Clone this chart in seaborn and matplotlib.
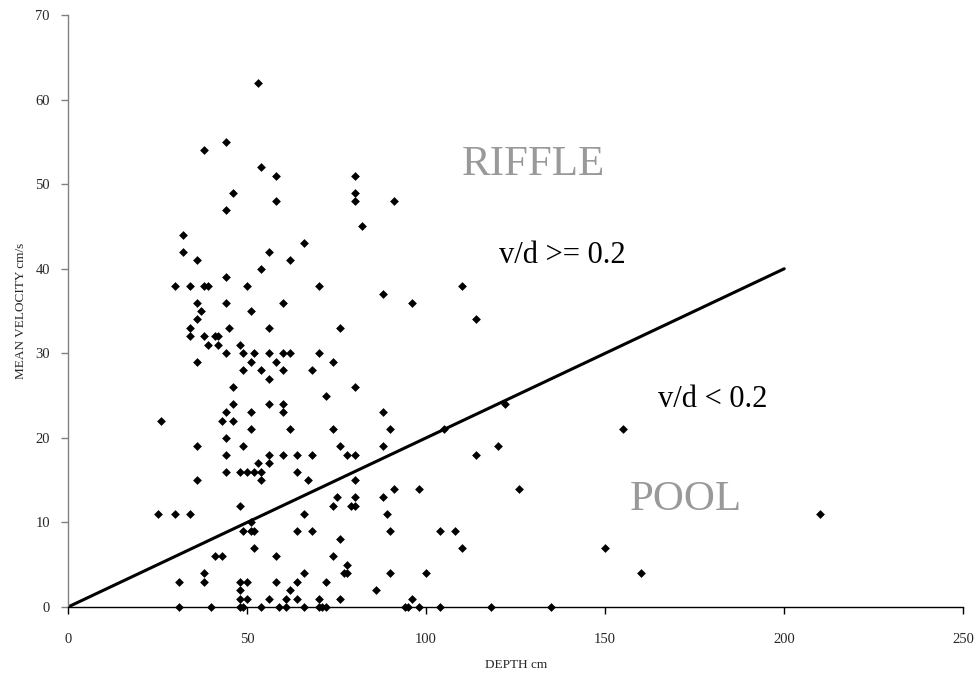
import matplotlib
matplotlib.use("Agg")
import matplotlib.pyplot as plt
import seaborn as sns
import pandas as pd

# Field survey: depth (cm) and mean velocity (cm/s) at each station
depth = [
    53, 44, 38, 54, 58, 80, 46, 80, 58, 80, 91, 44, 82, 32, 66, 32, 56, 36, 62, 54,
    44, 30, 34, 38, 39, 50, 70, 110, 88, 36, 44, 60, 96, 37, 51, 36, 114,
    34, 45, 56, 76, 34, 38, 41, 42, 39, 42, 48, 44, 49, 52, 56, 60, 62, 70,
    36, 51, 58, 74, 49, 54, 60, 68, 56, 46, 80, 72, 46, 56, 60, 122,
    44, 51, 60, 88, 26, 43, 46, 51, 62, 74, 90, 105, 155, 44,
    36, 49, 76, 88, 120, 44, 56, 60, 64, 68, 78, 80, 114, 53, 56,
    44, 48, 50, 52, 54, 64, 36, 54, 67, 80, 91, 98, 126, 75, 80, 88,
    48, 74, 79, 80, 25, 30, 34, 66, 89, 210, 51,
    49, 51, 52, 64, 68, 90, 104, 108, 76, 52, 110, 150, 41, 43, 58, 74, 78,
    38, 66, 77, 78, 90, 100, 160, 31, 38, 48, 50, 58, 64, 72, 48, 62, 86,
    48, 50, 56, 61, 64, 70, 76, 96,
    31, 40, 48, 49, 54, 59, 61, 66, 70, 71, 72, 94, 95, 98, 104, 118, 135,
]
velocity = [
    62, 55, 54, 52, 51, 51, 49, 49, 48, 48, 48, 47, 45, 44, 43, 42, 42, 41, 41, 40,
    39, 38, 38, 38, 38, 38, 38, 38, 37, 36, 36, 36, 36, 35, 35, 34, 34,
    33, 33, 33, 33, 32, 32, 32, 32, 31, 31, 31, 30, 30, 30, 30, 30, 30, 30,
    29, 29, 29, 29, 28, 28, 28, 28, 27, 26, 26, 25, 24, 24, 24, 24,
    23, 23, 23, 23, 22, 22, 22, 21, 21, 21, 21, 21, 21, 20,
    19, 19, 19, 19, 19, 18, 18, 18, 18, 18, 18, 18, 18, 17, 17,
    16, 16, 16, 16, 16, 16, 15, 15, 15, 15, 14, 14, 14, 13, 13, 13,
    12, 12, 12, 12, 11, 11, 11, 11, 11, 11, 10,
    9, 9, 9, 9, 9, 9, 9, 9, 8, 7, 7, 7, 6, 6, 6, 6, 5,
    4, 4, 4, 4, 4, 4, 4, 3, 3, 3, 3, 3, 3, 3, 2, 2, 2,
    1, 1, 1, 1, 1, 1, 1, 1,
    0, 0, 0, 0, 0, 0, 0, 0, 0, 0, 0, 0, 0, 0, 0, 0, 0,
]

# Boundary v/d = 0.2 separating riffle from pool habitat
boundary_depth = [0, 200]
boundary_velocity = [0, 40]

x_ticks = [0, 50, 100, 150, 200, 250]
y_ticks = [0, 10, 20, 30, 40, 50, 60, 70]

sns.set_style("white")
plt.rcParams["font.family"] = ["Liberation Serif", "DejaVu Serif"]

points = pd.DataFrame({"depth": depth, "velocity": velocity})
line = pd.DataFrame({"depth": boundary_depth, "velocity": boundary_velocity})

fig = plt.figure(figsize=(9.8, 6.77), dpi=100)
ax = fig.add_axes([0.0694, 0.1034, 0.9136, 0.8744])

sns.lineplot(data=line, x="depth", y="velocity", color="black", linewidth=2.2, ax=ax, zorder=2)
sns.scatterplot(data=points, x="depth", y="velocity", marker="D", s=20, color="black",
                edgecolor="black", linewidth=0, ax=ax, zorder=3, clip_on=False)

ax.set_xlim(0, 250)
ax.set_ylim(0, 70)
ax.set_xticks(x_ticks)
ax.set_yticks(y_ticks)
ax.set_xticklabels([str(t) for t in x_ticks], fontsize=10.5)
ax.set_yticklabels([str(t) for t in y_ticks], fontsize=10.5)

ax.set_xlabel("DEPTH cm", fontsize=9.5, labelpad=9)
ax.set_ylabel("MEAN VELOCITY cm/s", fontsize=9.5, labelpad=6)

for side in ("top", "right"):
    ax.spines[side].set_visible(False)
ax.spines["left"].set_color("#808080")
ax.spines["left"].set_linewidth(1.0)
ax.spines["bottom"].set_color("black")
ax.spines["bottom"].set_linewidth(1.0)

ax.tick_params(axis="x", direction="out", length=5, width=1, color="black", pad=14, bottom=True)
ax.tick_params(axis="y", direction="out", length=5, width=1, color="#808080", pad=8, left=True)

ax.text(130, 52.3, "RIFFLE", fontsize=31, color="#999999", ha="center", va="center")
ax.text(172.6, 12.7, "POOL", fontsize=31, color="#999999", ha="center", va="center")
ax.text(138, 41.6, "v/d >= 0.2", fontsize=22, color="black", ha="center", va="center")
ax.text(180, 24.5, "v/d < 0.2", fontsize=22, color="black", ha="center", va="center")

fig.savefig("out.png", dpi=100)
